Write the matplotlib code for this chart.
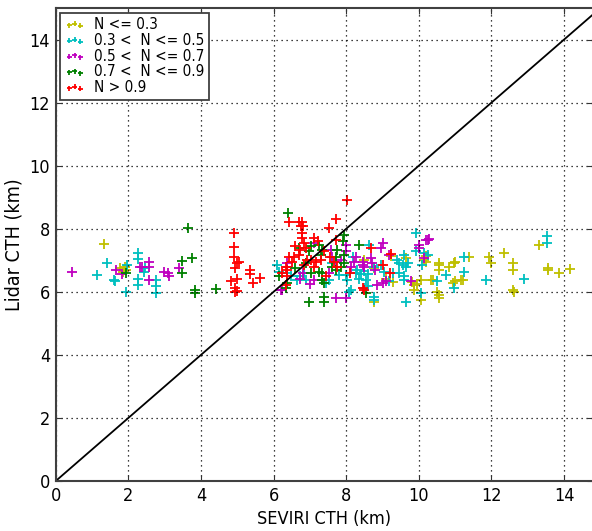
import numpy as np
import matplotlib.pyplot as plt

plt.rcParams['font.family'] = ['DejaVu Sans']
plt.rcParams['font.stretch'] = 'condensed'

# N <= 0.3
x1 = [1.32, 1.78, 1.87, 1.92, 1.94, 1.85, 8.49, 8.76, 8.77, 9.23, 9.1, 9.64, 9.8, 9.87, 9.87, 10.06,
      10.06, 10.15, 10.2, 10.33, 10.4, 10.51, 10.56, 10.56, 10.56, 10.56, 10.56, 10.84, 10.97, 10.99,
      10.93, 11.0, 11.16, 11.21, 11.39, 11.94, 11.99, 12.35, 12.58, 12.58, 12.58, 12.63, 13.32, 13.55,
      13.55, 13.87, 14.17, 9.95, 10.2, 9.3]
y1 = [7.52, 6.76, 6.70, 6.80, 6.70, 6.62, 7.0, 6.75, 5.69, 7.15, 6.4, 7.07, 6.3, 6.22, 6.06, 6.38,
      5.75, 7.0, 6.95, 6.38, 6.38, 6.01, 6.91, 6.70, 6.86, 5.90, 5.80, 6.80, 6.91, 6.96,
      6.28, 6.33, 6.38, 6.38, 7.12, 7.12, 6.91, 7.23, 6.91, 6.70, 6.06, 6.01, 7.49, 6.75,
      6.70, 6.61, 6.72, 6.25, 7.15, 6.3]

# 0.3 < N <= 0.5
x2 = [1.14, 1.41, 1.61, 1.64, 1.96, 1.94, 2.26, 2.26, 2.27, 2.26, 2.44, 2.47, 2.77, 2.77, 2.77,
      6.10, 6.15, 6.38, 6.47, 6.65, 6.74, 6.84, 6.88, 7.34, 7.43, 7.53, 7.80, 7.99, 8.03, 8.12, 8.07,
      8.26, 8.3, 8.4, 8.5, 8.6, 8.35, 8.55, 8.6, 8.5, 8.63, 8.76, 8.95, 9.05, 8.77, 8.77, 9.18, 9.3,
      9.45, 9.41, 9.46, 9.59, 9.69, 9.55, 9.64, 9.92, 9.92, 10.15, 10.24, 10.10, 9.59, 9.59, 10.51,
      10.74, 10.97, 10.06, 9.64, 11.25, 11.25, 11.85, 12.89, 13.53, 13.53, 8.2, 7.6]
y2 = [6.52, 6.93, 6.38, 6.35, 6.86, 6.01, 7.23, 7.04, 6.40, 6.22, 6.64, 6.75, 6.38, 6.17, 5.96,
      6.86, 6.64, 6.59, 6.49, 6.38, 6.49, 6.59, 6.38, 6.36, 6.28, 6.38, 6.54, 6.54, 6.38, 6.05, 6.0,
      6.6, 6.7, 6.58, 6.67, 6.58, 6.4, 6.38, 6.2, 6.12, 7.49, 6.8, 6.85, 6.63, 5.85, 5.75, 6.35, 6.6,
      6.6, 7.02, 6.91, 7.17, 6.91, 6.86, 6.80, 7.86, 7.28, 7.23, 7.17, 6.86, 6.49, 6.38, 6.33,
      6.54, 6.12, 5.96, 5.69, 7.12, 6.64, 6.38, 6.40, 7.76, 7.55, 7.1, 6.9]

# 0.5 < N <= 0.7
x3 = [0.455, 1.67, 1.83, 2.31, 2.38, 2.56, 2.56, 2.56, 2.97, 3.08, 3.11, 3.39,
      6.38, 6.38, 6.74, 7.11, 6.24, 6.20, 7.53, 7.57, 7.11, 7.99, 8.0, 7.62, 7.71, 7.85, 8.12, 8.21,
      8.26, 8.45, 8.49, 8.45, 8.68, 8.72, 8.78, 9.00, 8.95, 9.18, 8.86, 9.00, 9.09, 7.71, 7.99,
      10.01, 10.01, 10.19, 10.24, 10.28, 10.15, 9.78, 6.8, 7.0]
y3 = [6.64, 6.68, 6.57, 6.80, 6.80, 6.96, 6.80, 6.38, 6.64, 6.59, 6.49, 6.75,
      6.90, 6.80, 6.42, 6.38, 6.06, 6.06, 6.59, 7.33, 7.55, 7.49, 7.3, 7.12, 6.96, 7.02, 6.80, 6.96,
      7.12, 6.96, 6.80, 6.86, 7.07, 6.9, 6.7, 7.55, 7.39, 7.17, 6.22, 6.28, 6.33, 5.80, 5.80,
      7.49, 7.39, 7.63, 7.65, 7.67, 7.07, 6.33, 6.6, 6.25]

# 0.7 < N <= 0.9
x4 = [1.94, 3.48, 3.48, 3.64, 3.76, 3.83, 3.83, 4.42,
      6.41, 6.70, 6.97, 7.02, 7.25, 7.34, 7.30, 6.15, 6.38, 6.33, 7.02, 7.25, 7.34, 7.39, 7.34,
      6.97, 7.39, 7.39, 7.94, 7.90, 8.35, 7.76, 7.71, 7.94, 7.62, 7.71, 7.85, 7.94, 8.55, 6.6, 6.9]
y4 = [6.6, 6.99, 6.59, 8.02, 7.07, 6.06, 5.96, 6.10,
      8.50, 7.39, 7.28, 7.44, 7.49, 7.33, 7.17, 6.49, 6.28, 6.12, 6.59, 6.64, 6.59, 6.28, 6.38,
      5.69, 5.85, 5.69, 7.81, 7.60, 7.49, 7.33, 7.12, 7.17, 6.80, 6.7, 6.8, 6.9, 5.96, 6.75, 6.9]

# N > 0.9
x5 = [4.90, 4.90, 4.90, 4.95, 5.00, 5.04, 4.84, 4.98, 4.95, 4.98, 4.93, 5.35, 5.35, 5.44, 5.64,
      6.42, 6.70, 6.79, 6.76, 6.82, 7.53, 8.01, 7.71, 6.79, 6.79, 6.84, 7.11, 7.21, 6.42, 6.56,
      6.70, 6.74, 6.93, 7.02, 6.84, 7.16, 6.33, 6.38, 6.24, 6.38, 6.33, 7.71, 8.68, 9.23, 7.66,
      7.76, 9.0, 8.45, 8.49, 9.2, 6.6, 6.9, 7.4, 7.55, 6.5, 7.1, 7.3, 7.45, 8.1]
y5 = [7.88, 7.42, 7.10, 6.75, 6.91, 6.96, 6.35, 6.40, 6.12, 6.04, 5.99, 6.70, 6.57, 6.28, 6.43,
      8.20, 8.20, 8.20, 8.10, 8.10, 8.02, 8.92, 8.31, 7.86, 7.70, 7.55, 7.70, 7.60, 7.12, 7.12,
      7.17, 7.33, 7.02, 7.02, 6.86, 6.96, 6.80, 6.70, 6.59, 6.49, 6.22, 7.65, 7.39, 7.2, 6.96,
      6.80, 6.85, 6.12, 6.06, 6.6, 7.45, 7.4, 7.3, 7.1, 6.95, 6.8, 7.0, 6.5, 6.6]

series = [(x1, y1, 'y', 'N <= 0.3'),
          (x2, y2, 'c', '0.3 <  N <= 0.5'),
          (x3, y3, 'm', '0.5 <  N <= 0.7'),
          (x4, y4, 'g', '0.7 <  N <= 0.9'),
          (x5, y5, 'r', 'N > 0.9')]

fig = plt.figure(figsize=(5.92, 5.31), dpi=100)
ax = fig.add_axes([0.094, 0.094, 0.908, 0.891])

for xs, ys, c, lab in series:
    ax.scatter(xs, ys, marker='+', s=55, c=c, linewidths=1.3, label=lab)

ax.plot([0, 15], [0, 15], 'k-', lw=1.3)

ax.set_xlim(0, 14.8)
ax.set_ylim(0, 15)
ax.set_xticks(np.arange(0, 15, 2))
ax.set_yticks(np.arange(0, 15, 2))
ax.grid(True, color='k', linestyle=(0, (1, 3)), linewidth=0.9)
ax.tick_params(direction='in', top=True, right=True, labelsize=13, length=4, pad=4,
               color='0.2')
ax.set_xlabel('SEVIRI CTH (km)', fontsize=13)
ax.set_ylabel('Lidar CTH (km)', fontsize=14)
for sp in ax.spines.values():
    sp.set_linewidth(1.5)
    sp.set_color('0.25')

leg = ax.legend(loc='upper left', scatterpoints=3, fontsize=11, markerscale=0.5,
                fancybox=False, edgecolor='0.25', framealpha=1, borderpad=0.3,
                labelspacing=0.05, handletextpad=0.6, handlelength=1.3, borderaxespad=0.3)
leg.get_frame().set_linewidth(1.3)

fig.savefig('out.png', dpi=100)
